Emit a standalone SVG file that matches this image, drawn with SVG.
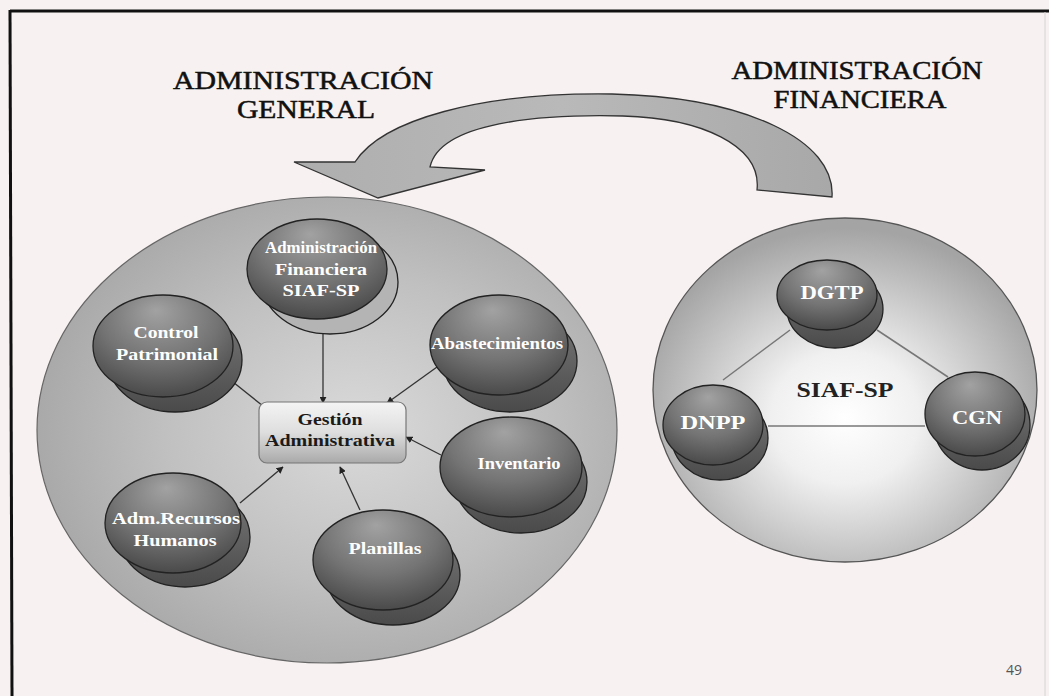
<svg xmlns="http://www.w3.org/2000/svg" width="1049" height="696" viewBox="0 0 1049 696">
<defs>
<radialGradient id="gLeft" cx="0.55" cy="0.5" r="0.55">
<stop offset="0" stop-color="#dadada"/>
<stop offset="0.6" stop-color="#c0c0c0"/>
<stop offset="1" stop-color="#a9a9a9"/>
</radialGradient>
<radialGradient id="gRight" cx="0.5" cy="0.58" r="0.55">
<stop offset="0" stop-color="#ffffff"/>
<stop offset="0.35" stop-color="#f0f0f0"/>
<stop offset="1" stop-color="#a4a4a4"/>
</radialGradient>
<radialGradient id="gNode" cx="0.5" cy="0.3" r="0.75" fx="0.45" fy="0.15">
<stop offset="0" stop-color="#a2a2a2"/>
<stop offset="0.55" stop-color="#747474"/>
<stop offset="1" stop-color="#444444"/>
</radialGradient>
<linearGradient id="gBack" x1="0" y1="0" x2="0" y2="1">
<stop offset="0" stop-color="#7a7a7a"/>
<stop offset="1" stop-color="#4a4a4a"/>
</linearGradient>
<linearGradient id="gBox" x1="0" y1="0" x2="0" y2="1">
<stop offset="0" stop-color="#f4f4f4"/>
<stop offset="0.5" stop-color="#dedede"/>
<stop offset="1" stop-color="#a9a9a9"/>
</linearGradient>
<linearGradient id="gArrow" x1="0" y1="0" x2="1" y2="0">
<stop offset="0" stop-color="#aeaeae"/>
<stop offset="0.5" stop-color="#b9b9b9"/>
<stop offset="1" stop-color="#a8a8a8"/>
</linearGradient>
<marker id="ah" viewBox="0 0 10 10" refX="9" refY="5" markerWidth="7" markerHeight="7" orient="auto" markerUnits="userSpaceOnUse">
<path d="M0,0 L10,5 L0,10 z" fill="#222"/>
</marker>
<style>
.title{font-family:"Liberation Serif","Times New Roman",serif;font-size:25px;fill:#111;stroke:#111;stroke-width:0.5;text-anchor:middle}
.front{fill:url(#gNode);stroke:#222;stroke-width:1.3}
.back{fill:url(#gBack);stroke:#222;stroke-width:1.3}
.lbl{font-family:"Liberation Serif","Times New Roman",serif;font-weight:bold;font-size:16px;fill:#ffffff;text-anchor:middle}
.lblR{font-family:"Liberation Serif","Times New Roman",serif;font-weight:bold;font-size:18px;fill:#ffffff;text-anchor:middle}
.dark{font-family:"Liberation Serif","Times New Roman",serif;font-weight:bold;font-size:16px;fill:#1a1a1a;text-anchor:middle}
.conn{stroke:#333;stroke-width:1.3;fill:none;marker-end:url(#ah)}
.tri{stroke:#777;stroke-width:1.5;fill:none}
</style>
</defs>

<rect x="0" y="0" width="1049" height="696" fill="#f7f1f1"/>
<line x1="10" y1="11" x2="1049" y2="11" stroke="#111" stroke-width="3"/>
<line x1="10" y1="10" x2="12" y2="696" stroke="#111" stroke-width="3"/>
<line x1="1045" y1="12" x2="1045" y2="696" stroke="#d8d4d4" stroke-width="1"/>

<g id="titles">
<text class="title" x="303" y="89" textLength="260" lengthAdjust="spacingAndGlyphs">ADMINISTRACIÓN</text>
<text class="title" x="306" y="118" textLength="138" lengthAdjust="spacingAndGlyphs">GENERAL</text>
<text class="title" x="857" y="79" textLength="251" lengthAdjust="spacingAndGlyphs">ADMINISTRACIÓN</text>
<text class="title" x="860" y="108" textLength="173" lengthAdjust="spacingAndGlyphs">FINANCIERA</text>
</g>

<g id="big-arrow">
<path d="M294,162 L378,198 L485,170 L430,167 C440,122 540,114 623,116 C700,118 762,145 757,190 L832,197 C836,140 745,97 612,94 C480,92 382,120 355,162 Z" fill="url(#gArrow)" stroke="#333" stroke-width="1.3" stroke-linejoin="miter"/>
</g>

<g id="circle-general">
<ellipse cx="327" cy="430" rx="290" ry="233" fill="url(#gLeft)" stroke="#666" stroke-width="1.2"/>
</g>

<g id="circle-financiera">
<ellipse cx="845" cy="390" rx="192" ry="172" fill="url(#gRight)" stroke="#555" stroke-width="1.3"/>
</g>

<g id="connectors">
<line class="conn" x1="323" y1="334" x2="323" y2="403"/>
<line class="conn" x1="233" y1="382" x2="268" y2="410"/>
<line class="conn" x1="437" y1="367" x2="387" y2="403"/>
<line class="conn" x1="441" y1="455" x2="406" y2="437"/>
<line class="conn" x1="360" y1="510" x2="340" y2="467"/>
<line class="conn" x1="240" y1="503" x2="283" y2="467"/>
<line class="tri" x1="790" y1="330" x2="723" y2="380"/>
<line class="tri" x1="877" y1="330" x2="948" y2="377"/>
<line class="tri" x1="768" y1="426" x2="925" y2="426"/>
</g>

<g id="node-admin-financiera">
<ellipse class="back" cx="330" cy="282" rx="68" ry="52" style="fill:#b4b4b4"/>
<ellipse class="front" cx="317" cy="269" rx="70" ry="50"/>
<text class="lbl" x="321" y="253" textLength="112" lengthAdjust="spacingAndGlyphs">Administración</text>
<text class="lbl" x="321" y="275" textLength="92" lengthAdjust="spacingAndGlyphs">Financiera</text>
<text class="lbl" x="321" y="296" textLength="77" lengthAdjust="spacingAndGlyphs">SIAF-SP</text>
</g>

<g id="node-control-patrimonial">
<ellipse class="back" cx="175" cy="360" rx="67" ry="52"/>
<ellipse class="front" cx="163" cy="346" rx="70" ry="51"/>
<text class="lbl" x="166" y="338" textLength="65" lengthAdjust="spacingAndGlyphs">Control</text>
<text class="lbl" x="167" y="360" textLength="102" lengthAdjust="spacingAndGlyphs">Patrimonial</text>
</g>

<g id="node-abastecimientos">
<ellipse class="back" cx="510" cy="361" rx="67" ry="51"/>
<ellipse class="front" cx="499" cy="345" rx="69" ry="50"/>
<text class="lbl" x="497" y="349" textLength="132" lengthAdjust="spacingAndGlyphs">Abastecimientos</text>
</g>

<g id="node-inventario">
<ellipse class="back" cx="521" cy="482" rx="66" ry="51"/>
<ellipse class="front" cx="511" cy="467" rx="71" ry="50"/>
<text class="lbl" x="519" y="469" textLength="83" lengthAdjust="spacingAndGlyphs">Inventario</text>
</g>

<g id="node-planillas">
<ellipse class="back" cx="393" cy="575" rx="67" ry="50"/>
<ellipse class="front" cx="383" cy="560" rx="70" ry="50"/>
<text class="lbl" x="385" y="554" textLength="73" lengthAdjust="spacingAndGlyphs">Planillas</text>
</g>

<g id="node-recursos-humanos">
<ellipse class="back" cx="185" cy="537" rx="65" ry="50"/>
<ellipse class="front" cx="173" cy="523" rx="68" ry="50"/>
<text class="lbl" x="176" y="524" textLength="128" lengthAdjust="spacingAndGlyphs">Adm.Recursos</text>
<text class="lbl" x="175" y="546" textLength="83" lengthAdjust="spacingAndGlyphs">Humanos</text>
</g>

<g id="node-gestion">
<rect x="259" y="402" width="147" height="61" rx="8" ry="8" fill="url(#gBox)" stroke="#777" stroke-width="1.2"/>
<text class="dark" x="330" y="425" textLength="65" lengthAdjust="spacingAndGlyphs">Gestión</text>
<text class="dark" x="330" y="446" textLength="130" lengthAdjust="spacingAndGlyphs">Administrativa</text>
</g>

<g id="node-dgtp">
<ellipse class="back" cx="835" cy="309" rx="48" ry="39"/>
<ellipse class="front" cx="827" cy="295" rx="50" ry="35"/>
<text class="lblR" x="832" y="299" textLength="63" lengthAdjust="spacingAndGlyphs">DGTP</text>
</g>

<g id="node-dnpp">
<ellipse class="back" cx="720" cy="438" rx="48" ry="42"/>
<ellipse class="front" cx="713" cy="425" rx="50" ry="40"/>
<text class="lblR" x="713" y="429" textLength="65" lengthAdjust="spacingAndGlyphs">DNPP</text>
</g>

<g id="node-cgn">
<ellipse class="back" cx="982" cy="425" rx="48" ry="45"/>
<ellipse class="front" cx="975" cy="414" rx="50" ry="42"/>
<text class="lblR" x="977" y="424" textLength="50" lengthAdjust="spacingAndGlyphs">CGN</text>
</g>

<g id="label-siaf">
<text x="845" y="397" font-family="Liberation Serif, Times New Roman, serif" font-weight="bold" font-size="20" fill="#222" text-anchor="middle" textLength="97" lengthAdjust="spacingAndGlyphs">SIAF-SP</text>
</g>

<text x="1014" y="675" font-family="Open Sans, sans-serif" font-size="14" fill="#555" text-anchor="middle">49</text>
</svg>
